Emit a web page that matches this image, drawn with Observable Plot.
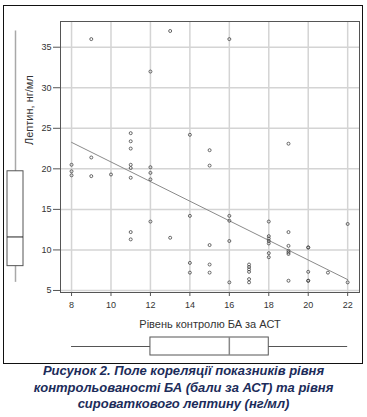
<!DOCTYPE html>
<html>
<head>
<meta charset="utf-8">
<script src="https://cdn.jsdelivr.net/npm/d3@7"></script>
<script src="https://cdn.jsdelivr.net/npm/@observablehq/plot@0.6"></script>
<style>
  html, body { margin: 0; padding: 0; background: #fff; }
  #wrap { position: relative; width: 367px; height: 417px; background: #fff; font-family: "Liberation Sans", Arial, sans-serif; }
  #frame { position: absolute; left: 3px; top: 5px; width: 360px; height: 359px; box-sizing: border-box; border: 1.5px solid #111; }
  .abs { position: absolute; }
  #caption { position: absolute; left: 0; top: 363px; width: 367px; text-align: center; font: italic bold 13px/16.5px "Liberation Sans", Arial, sans-serif; color: #1c2c5a; }
</style>
</head>
<body>
<div id="wrap">
  <div id="frame"></div>
  <div id="main" class="abs" style="left:0;top:0"></div>
  <div id="leftbox" class="abs" style="left:0;top:0"></div>
  <div id="bottombox" class="abs" style="left:0;top:330px"></div>
  <div id="caption"></div>
</div>
<script>
// ---- data ----
const actScore = [
  8, 8, 8,
  9, 9, 9,
  10,
  11, 11, 11, 11, 11, 11, 11, 11,
  12, 12, 12, 12, 12,
  13, 13,
  14, 14, 14, 14,
  15, 15, 15, 15, 15,
  16, 16, 16, 16, 16,
  17, 17, 17, 17, 17, 17,
  18, 18, 18, 18, 18, 18, 18,
  19, 19, 19, 19, 19, 19, 19,
  20, 20, 20, 20, 20,
  21,
  22, 22
];
const leptin = [
  20.5, 19.7, 19.2,
  36, 21.4, 19.1,
  19.3,
  24.4, 23.4, 22.5, 20.5, 20.1, 18.9, 12.2, 11.3,
  32, 20.2, 19.5, 18.7, 13.5,
  37, 11.5,
  24.2, 14.2, 8.4, 7.2,
  22.3, 20.4, 10.6, 8.2, 7.2,
  36, 14.2, 13.6, 11.1, 6.0,
  8.2, 7.9, 7.6, 7.3, 6.4, 6.0,
  13.5, 11.7, 11.4, 11.1, 10.8, 9.6, 9.1,
  23.1, 12.2, 10.5, 9.9, 9.7, 9.5, 6.2,
  10.3, 10.3, 7.3, 6.2, 6.2,
  7.2,
  13.2, 6.0
];
const xTicks = [8, 10, 12, 14, 16, 18, 20, 22];
const yTicks = [5, 10, 15, 20, 25, 30, 35];
// marginal box plot statistics: [min, q1, median, q3, max]
const leptinBoxStats = [6, 8, 11.6, 19.7, 37];
const actBoxStats = [8, 12, 16, 18, 22];

const xLabel = "Рівень контролю БА за АСТ";
const yLabel = "Лептин, нг/мл";
const captionLines = [
  "Рисунок 2. Поле кореляції показників рівня",
  "контрольованості БА (бали за АСТ) та рівня",
  "сироваткового лептину (нг/мл)"
];

// ---- build ----
const points = actScore.map((x, i) => ({x, y: leptin[i]}));
const xDomain = [7.44, 22.6];
const yDomain = [4.75, 38.17];
const W = 367, H = 330;
const mL = 60, mR = 8, mT = 21, mB = 38;
const font = "Liberation Sans, Arial, sans-serif";

const main = Plot.plot({
  width: W, height: H,
  marginLeft: mL, marginRight: mR, marginTop: mT, marginBottom: mB,
  style: {fontFamily: font, fontSize: "9px", color: "#333", background: "transparent"},
  x: {domain: xDomain, ticks: xTicks},
  y: {domain: yDomain, ticks: yTicks},
  marks: [
    Plot.gridX(xTicks, {stroke: "#d4d4d4", strokeWidth: 1.5, strokeOpacity: 1}),
    Plot.gridY(yTicks, {stroke: "#d4d4d4", strokeWidth: 1.5, strokeOpacity: 1}),
    Plot.axisX(xTicks, {tickSize: 4, tickPadding: 5, label: null, stroke: "#555", fill: "#333", tickFormat: d => d}),
    Plot.axisY(yTicks, {tickSize: 7, tickPadding: 2, label: null, stroke: "#555", fill: "#333", tickFormat: d => d}),
    Plot.frame({stroke: "#555", strokeWidth: 1}),
    Plot.linearRegressionY(points, {x: "x", y: "y", ci: 0, stroke: "#8a8a8a", strokeWidth: 1}),
    Plot.dot(points, {x: "x", y: "y", r: 1.5, stroke: "#444", strokeWidth: 0.8, fill: "none"}),
    Plot.text([xLabel], {frameAnchor: "bottom", dy: 32, fontSize: 11, fill: "#333", lineAnchor: "middle"}),
    Plot.text([yLabel], {frameAnchor: "left", dx: -31, dy: -12, rotate: -90, fontSize: 11, fill: "#333"})
  ]
});
document.getElementById("main").append(main);

const lb = leptinBoxStats;
const left = Plot.plot({
  width: 30, height: H,
  marginLeft: 7, marginRight: 7, marginTop: mT, marginBottom: mB,
  style: {background: "transparent"},
  x: {type: "band", domain: ["leptin"], padding: 0, axis: null},
  y: {domain: yDomain, axis: null},
  marks: [
    Plot.ruleX([lb], {x: () => "leptin", y1: d => d[0], y2: d => d[4], stroke: "#a8a8a8", strokeWidth: 1.5}),
    Plot.barY([lb], {x: () => "leptin", y1: d => d[1], y2: d => d[3], fill: "#fff", stroke: "#555", strokeWidth: 1}),
    Plot.tickY([lb], {x: () => "leptin", y: d => d[2], stroke: "#222", strokeWidth: 1})
  ]
});
document.getElementById("leftbox").append(left);

const ab = actBoxStats;
const bottom = Plot.plot({
  width: W, height: 32,
  marginLeft: mL, marginRight: mR, marginTop: 7, marginBottom: 7,
  style: {background: "transparent"},
  x: {domain: xDomain, axis: null},
  y: {type: "band", domain: ["act"], padding: 0, axis: null},
  marks: [
    Plot.ruleY([ab], {y: () => "act", x1: d => d[0], x2: d => d[4], stroke: "#555", strokeWidth: 1}),
    Plot.barX([ab], {y: () => "act", x1: d => d[1], x2: d => d[3], fill: "#fff", stroke: "#555", strokeWidth: 1}),
    Plot.tickX([ab], {y: () => "act", x: d => d[2], stroke: "#888", strokeWidth: 1.5})
  ]
});
document.getElementById("bottombox").append(bottom);

document.getElementById("caption").innerHTML = captionLines.join("<br>");
</script>
</body>
</html>
